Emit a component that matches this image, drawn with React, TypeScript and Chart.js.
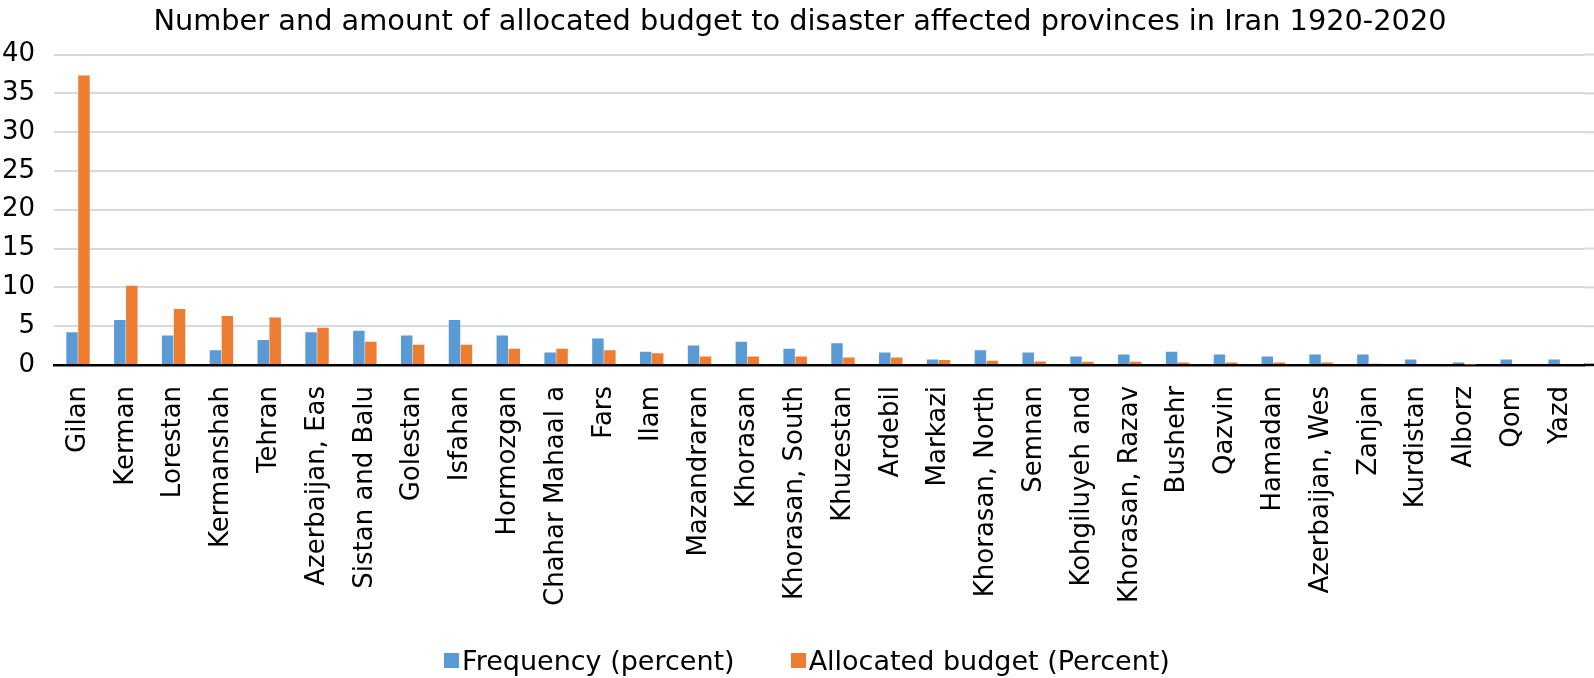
import React, { useEffect, useRef } from "react";
import { Chart, registerables } from "chart.js";

Chart.register(...registerables);

const categories = [
  "Gilan", "Kerman", "Lorestan", "Kermanshah", "Tehran", "Azerbaijan, Eas",
  "Sistan and Balu", "Golestan", "Isfahan", "Hormozgan", "Chahar Mahaal a",
  "Fars", "Ilam", "Mazandraran", "Khorasan", "Khorasan, South", "Khuzestan",
  "Ardebil", "Markazi", "Khorasan, North", "Semnan", "Kohgiluyeh and",
  "Khorasan, Razav", "Bushehr", "Qazvin", "Hamadan", "Azerbaijan, Wes",
  "Zanjan", "Kurdistan", "Alborz", "Qom", "Yazd",
];

const frequency = [
  4.2, 5.8, 3.8, 1.9, 3.2, 4.2, 4.4, 3.8, 5.8, 3.8, 1.6,
  3.4, 1.7, 2.5, 3.0, 2.1, 2.8, 1.6, 0.7, 1.9, 1.6, 1.1,
  1.35, 1.7, 1.35, 1.1, 1.35, 1.35, 0.7, 0.3, 0.7, 0.7,
];

const budget = [
  37.3, 10.2, 7.2, 6.3, 6.1, 4.8, 3.0, 2.6, 2.6, 2.1, 2.1,
  1.9, 1.5, 1.1, 1.1, 1.1, 0.95, 0.95, 0.65, 0.55, 0.45, 0.4,
  0.4, 0.3, 0.3, 0.3, 0.3, 0.15, 0.12, 0.05, 0, 0,
];

const yTicks = [0, 5, 10, 15, 20, 25, 30, 35, 40];

const seriesNames = ["Frequency (percent)", "Allocated budget (Percent)"];
const seriesColors = ["#5B9BD5", "#ED7D31"];

const FONT = "'DejaVu Sans', sans-serif";

const layoutTweaks = {
  id: "layoutTweaks",
  afterLayout(chart: any) {
    if (chart.titleBlock) chart.titleBlock.left += 33;
  },
  beforeDatasetsDraw(chart: any) {
    const { ctx, chartArea, scales, width } = chart;
    const y = scales.y;
    ctx.save();
    yTicks.forEach((v) => {
      const py = y.getPixelForValue(v);
      ctx.beginPath();
      ctx.strokeStyle = v === 0 ? "#000" : "#d9d9d9";
      ctx.lineWidth = v === 0 ? 2.5 : 2;
      ctx.moveTo(chartArea.right, py);
      ctx.lineTo(width, py);
      ctx.stroke();
    });
    ctx.restore();
  },
};

export default function App() {
  const ref = useRef<HTMLCanvasElement | null>(null);

  useEffect(() => {
    if (!ref.current) return;
    const chart = new Chart(ref.current, {
      type: "bar",
      data: {
        labels: categories,
        datasets: [
          {
            label: seriesNames[0],
            data: frequency,
            backgroundColor: seriesColors[0],
            categoryPercentage: 0.5,
            barPercentage: 0.96,
          },
          {
            label: seriesNames[1],
            data: budget,
            backgroundColor: seriesColors[1],
            categoryPercentage: 0.5,
            barPercentage: 0.96,
          },
        ],
      },
      plugins: [layoutTweaks],
      options: {
        responsive: false,
        animation: false,
        layout: { padding: { left: -17, right: 10, top: 0, bottom: 51 } },
        plugins: {
          legend: { display: false },
          tooltip: { enabled: false },
          title: {
            display: true,
            text: "Number and amount of allocated budget to disaster affected provinces in Iran 1920-2020",
            color: "#000",
            font: { family: FONT, size: 28.8, weight: "normal", lineHeight: 1.2 },
            padding: { top: 5, bottom: 15 },
          },
        },
        scales: {
          x: {
            grid: { display: false, drawTicks: false },
            border: { display: true, color: "#000", width: 2.5 },
            afterFit: (scale: any) => {
              scale.paddingLeft = 0;
              scale.paddingRight = 0;
            },
            ticks: {
              color: "#000",
              font: { family: FONT, size: 26 },
              minRotation: 90,
              maxRotation: 90,
              autoSkip: false,
              padding: 21,
            },
          },
          y: {
            min: 0,
            max: 40,
            afterBuildTicks: (axis: any) => {
              axis.ticks = yTicks.map((v) => ({ value: v }));
            },
            grid: { color: "#d9d9d9", lineWidth: 2, drawTicks: false },
            border: { display: false },
            ticks: {
              color: "#000",
              font: { family: FONT, size: 26 },
              padding: 19,
            },
          },
        },
      },
    });
    return () => chart.destroy();
  }, []);

  const legendItem = (i: number) => (
    <span style={{ display: "inline-flex", alignItems: "center", marginRight: i === 0 ? 56 : 0 }}>
      <span style={{ display: "inline-block", width: 15, height: 15, background: seriesColors[i], marginRight: 3 }} />
      <span>{seriesNames[i]}</span>
    </span>
  );

  return (
    <div style={{ position: "fixed", left: 0, top: 0, width: 1594, height: 678, background: "#fff" }}>
      <canvas ref={ref} width={1594} height={678} style={{ display: "block" }} />
      <div
        style={{
          position: "absolute",
          left: 0,
          width: 1594,
          top: 641,
          textAlign: "center",
          fontFamily: FONT,
          fontSize: 27,
          lineHeight: "36px",
          color: "#000",
          paddingLeft: 20,
          boxSizing: "border-box",
          whiteSpace: "nowrap",
        }}
      >
        {legendItem(0)}
        {legendItem(1)}
      </div>
    </div>
  );
}
